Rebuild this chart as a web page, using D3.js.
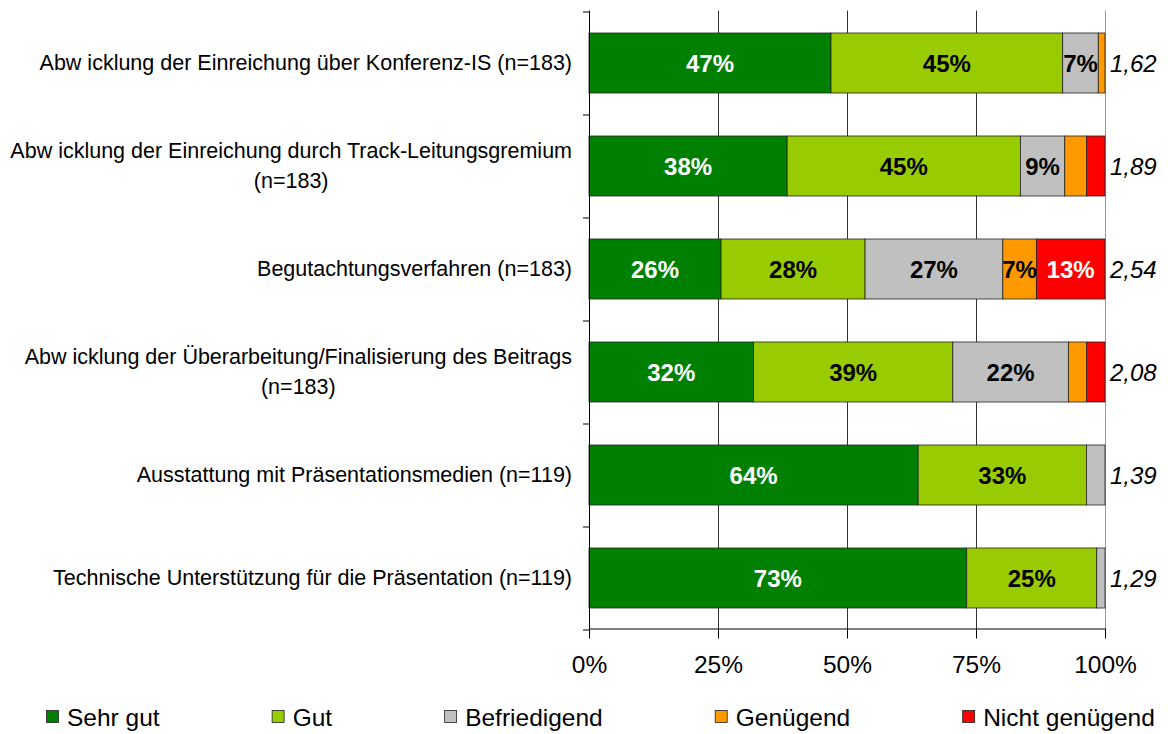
<!DOCTYPE html>
<html>
<head>
<meta charset="utf-8">
<script src="https://cdn.jsdelivr.net/npm/d3@7"></script>
<style>
  body { margin: 0; background: #fff; }
  text { font-family: Arial, "Liberation Sans", sans-serif; }
</style>
</head>
<body>
<div id="chart"></div>
<script>
// rows, top to bottom
var categories = [
  "Abw icklung der Einreichung über Konferenz-IS (n=183)",
  "Abw icklung der Einreichung durch Track-Leitungsgremium\n(n=183)",
  "Begutachtungsverfahren (n=183)",
  "Abw icklung der Überarbeitung/Finalisierung des Beitrags\n(n=183)",
  "Ausstattung mit Präsentationsmedien (n=119)",
  "Technische Unterstützung für die Präsentation (n=119)"
];

var seriesNames = ["Sehr gut", "Gut", "Befriedigend", "Genügend", "Nicht genügend"];
var seriesColors = ["#008000", "#99cc00", "#c0c0c0", "#ff9900", "#ff0000"];
var labelColors = ["#fff", "#000", "#000", "#000", "#fff"];

// percent per row
var sehrGut        = [46.9, 38.4, 25.6, 31.9, 63.8, 73.2];
var gut            = [44.9, 45.2, 27.9, 38.6, 32.6, 25.2];
var befriedigend   = [6.9, 8.6, 26.7, 22.4, 3.6, 1.6];
var genuegend      = [1.3, 4.2, 6.5, 3.5, 0, 0];
var nichtGenuegend = [0, 3.6, 13.3, 3.6, 0, 0];

var meanScores = [1.62, 1.89, 2.54, 2.08, 1.39, 1.29];
var xTicks = [0, 25, 50, 75, 100];

var series = [sehrGut, gut, befriedigend, genuegend, nichtGenuegend];

var width = 1168, height = 734;
var plot = { left: 589, right: 1105, top: 11.5, bottom: 629.5 };

var svg = d3.select("#chart")
  .append("svg")
    .attr("width", width)
    .attr("height", height);

var x = d3.scaleLinear()
  .domain([0, 100])
  .range([plot.left, plot.right]);

var y = d3.scaleBand()
  .domain(d3.range(categories.length))
  .range([plot.top, plot.bottom])
  .paddingInner(0.4175)
  .paddingOuter(0.4175 / 2);

// row boundaries for the left axis ticks
var yEdge = d3.scaleLinear()
  .domain([0, categories.length])
  .range([plot.top, plot.bottom]);

// vertical gridlines
svg.append("g")
  .selectAll("line")
  .data(xTicks.filter(d => d > 0))
  .join("line")
    .attr("x1", d => Math.round(x(d)) + 0.5)
    .attr("x2", d => Math.round(x(d)) + 0.5)
    .attr("y1", plot.top - 1)
    .attr("y2", plot.bottom - 1)
    .attr("stroke", d => d === 100 ? "#999" : "#333")
    .attr("stroke-width", 1);

// stacked data
var rows = categories.map(function(c, i) {
  var acc = 0;
  return series.map(function(s, k) {
    var seg = { row: i, k: k, v: s[i], x0: acc, x1: acc + s[i] };
    acc += s[i];
    return seg;
  });
});

var segs = svg.append("g")
  .selectAll("g")
  .data(rows)
  .join("g");

segs.selectAll("rect")
  .data(d => d.filter(s => s.v > 0))
  .join("rect")
    .attr("x", d => x(d.x0))
    .attr("y", d => y(d.row))
    .attr("width", d => x(d.x1) - x(d.x0))
    .attr("height", y.bandwidth())
    .attr("fill", d => seriesColors[d.k])
    .attr("stroke", "#222")
    .attr("stroke-width", 0.8);

segs.selectAll("text")
  .data(d => d.filter(s => s.v >= 5))
  .join("text")
    .attr("x", d => x((d.x0 + d.x1) / 2))
    .attr("y", d => y(d.row) + y.bandwidth() / 2)
    .attr("text-anchor", "middle")
    .attr("dominant-baseline", "central")
    .attr("font-size", "24px")
    .attr("font-weight", "bold")
    .attr("fill", d => labelColors[d.k])
    .text(d => Math.round(d.v) + "%");

// mean score to the right
var fmt = d3.format(".2f");
svg.append("g")
  .selectAll("text")
  .data(meanScores)
  .join("text")
    .attr("x", x(100) + 5)
    .attr("y", (d, i) => y(i) + y.bandwidth() / 2)
    .attr("dominant-baseline", "central")
    .attr("font-size", "24px")
    .attr("font-style", "italic")
    .attr("fill", "#000")
    .text(d => fmt(d).replace(".", ","));

// left axis
var yAxis = svg.append("g")
  .attr("transform", "translate(" + plot.left + ",0)")
  .call(d3.axisLeft(yEdge).ticks(categories.length).tickFormat("").tickSize(6).tickSizeOuter(0));
yAxis.select(".domain").attr("stroke", "#000").attr("d", "M0.5," + (plot.top - 1) + "V" + (plot.bottom - 1));
yAxis.selectAll(".tick line").attr("stroke", "#000");

// bottom axis
var xAxis = svg.append("g")
  .attr("transform", "translate(0," + (plot.bottom - 1) + ")")
  .call(d3.axisBottom(x).tickValues(xTicks).tickFormat(d => d + "%").tickSize(10).tickPadding(17).tickSizeOuter(0));
xAxis.select(".domain").attr("stroke", "#000");
xAxis.selectAll(".tick line").attr("stroke", "#000");
xAxis.selectAll("text")
  .attr("font-size", "24.5px")
  .attr("font-family", "Arial, 'Liberation Sans', sans-serif")
  .attr("fill", "#000");

// category labels, multi-line blocks centred and right-aligned to the axis
var labelRight = 572;
categories.forEach(function(c, i) {
  var lines = c.split("\n");
  var g = svg.append("g");
  var texts = lines.map(function(line, j) {
    return g.append("text")
      .attr("y", y(i) + y.bandwidth() / 2 + (j - (lines.length - 1) / 2) * 30)
      .attr("dominant-baseline", "central")
      .attr("text-anchor", "middle")
      .attr("font-size", "21.5px")
      .attr("fill", "#000")
      .text(line);
  });
  var maxW = d3.max(texts, t => t.node().getComputedTextLength());
  texts.forEach(t => t.attr("x", labelRight - maxW / 2));
});

// legend
var legend = svg.append("g").attr("transform", "translate(0,717)");
var lx = 46;
seriesNames.forEach(function(name, k) {
  legend.append("rect")
    .attr("x", lx + 0.5)
    .attr("y", -6.5)
    .attr("width", 12)
    .attr("height", 12)
    .attr("fill", seriesColors[k])
    .attr("stroke", "#222")
    .attr("stroke-width", 0.8);
  var t = legend.append("text")
    .attr("x", lx + 21)
    .attr("y", 0)
    .attr("dominant-baseline", "central")
    .attr("font-size", "24.5px")
    .attr("fill", "#000")
    .text(name);
  lx += 21 + t.node().getComputedTextLength() + 112;
});
</script>
</body>
</html>
